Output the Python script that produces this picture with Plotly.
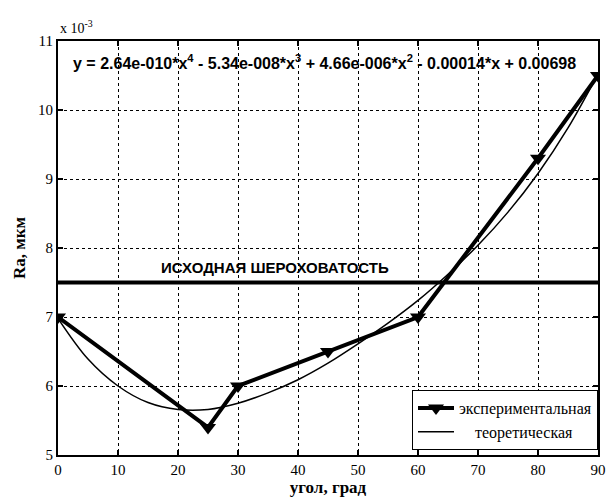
import plotly.graph_objects as go

# Experimental data (Ra in units of 1e-3 mkm)
exp_angle = [0, 25, 30, 45, 60, 80, 90]
exp_ra = [7.0, 5.4, 6.0, 6.5, 7.0, 9.3, 10.5]

# Theoretical curve
th_angle = [0, 5, 10, 15, 20, 25, 30, 35, 40, 45, 50, 55, 60, 65, 70, 75, 80, 85, 90]
th_ra = [6.98, 6.39, 6.00, 5.76, 5.66, 5.66, 5.75, 5.90, 6.09, 6.33, 6.61, 6.91,
         7.24, 7.62, 8.04, 8.52, 9.08, 9.74, 10.52]

initial_level = 7.5
x_ticks = [0, 10, 20, 30, 40, 50, 60, 70, 80, 90]
y_ticks = [5, 6, 7, 8, 9, 10, 11]

serif = "Liberation Serif"
sans = "Liberation Sans"

fig = go.Figure()
fig.add_trace(go.Scatter(
    x=[0, 90], y=[initial_level, initial_level], mode="lines",
    line=dict(color="black", width=4), showlegend=False, hoverinfo="skip"))
fig.add_trace(go.Scatter(
    x=exp_angle, y=exp_ra, mode="lines+markers", name="экспериментальная",
    line=dict(color="black", width=4),
    marker=dict(symbol="triangle-down", size=14, color="black")))
fig.add_trace(go.Scatter(
    x=th_angle, y=th_ra, mode="lines", name="\u00a0\u00a0\u00a0\u00a0теоретическая",
    line=dict(color="black", width=1.5, shape="spline")))

axis_common = dict(
    showline=True, linecolor="black", linewidth=2, mirror="ticks",
    ticks="inside", ticklen=5, tickwidth=1.5, tickcolor="black",
    showgrid=True, gridcolor="black", gridwidth=1, griddash="3px,3px",
    zeroline=False, tickfont=dict(family=serif, size=15, color="black"),
)

fig.update_xaxes(range=[0, 90], tickvals=x_ticks, **axis_common,
                 title=dict(text="<b>угол, град</b>", font=dict(family=serif, size=17, color="black"),
                            standoff=4))
fig.update_yaxes(range=[5, 11], tickvals=y_ticks, **axis_common,
                 title=dict(text="<b>Ra, мкм</b>", font=dict(family=serif, size=17, color="black"),
                            standoff=8))

fig.add_annotation(
    x=36.2, y=7.72, xref="x", yref="y", showarrow=False,
    text="<b>ИСХОДНАЯ ШЕРОХОВАТОСТЬ</b>",
    font=dict(family=sans, size=15, color="black"))
fig.add_annotation(
    x=2.2, y=10.70, xref="x", yref="y", showarrow=False, xanchor="left",
    text="<b>y = 2.64e-010*x<sup>4</sup> - 5.34e-008*x<sup>3</sup> + 4.66e-006*x<sup>2</sup> - 0.00014*x + 0.00698</b>",
    font=dict(family=sans, size=16, color="black"))
fig.add_annotation(
    x=0, y=1.0, xref="paper", yref="paper", showarrow=False,
    xanchor="left", yanchor="bottom", yshift=3,
    text="x 10<sup>-3</sup>",
    font=dict(family=serif, size=14, color="black"))

fig.update_layout(
    width=612, height=504,
    margin=dict(l=58, r=6, t=41, b=49),
    paper_bgcolor="white", plot_bgcolor="white",
    legend=dict(x=1, y=0.012, xanchor="right", yanchor="bottom",
                bgcolor="white", bordercolor="black", borderwidth=1,
                font=dict(family=serif, size=16, color="black"),
                tracegroupgap=0, itemwidth=36),
)

fig.write_html("out.html")
